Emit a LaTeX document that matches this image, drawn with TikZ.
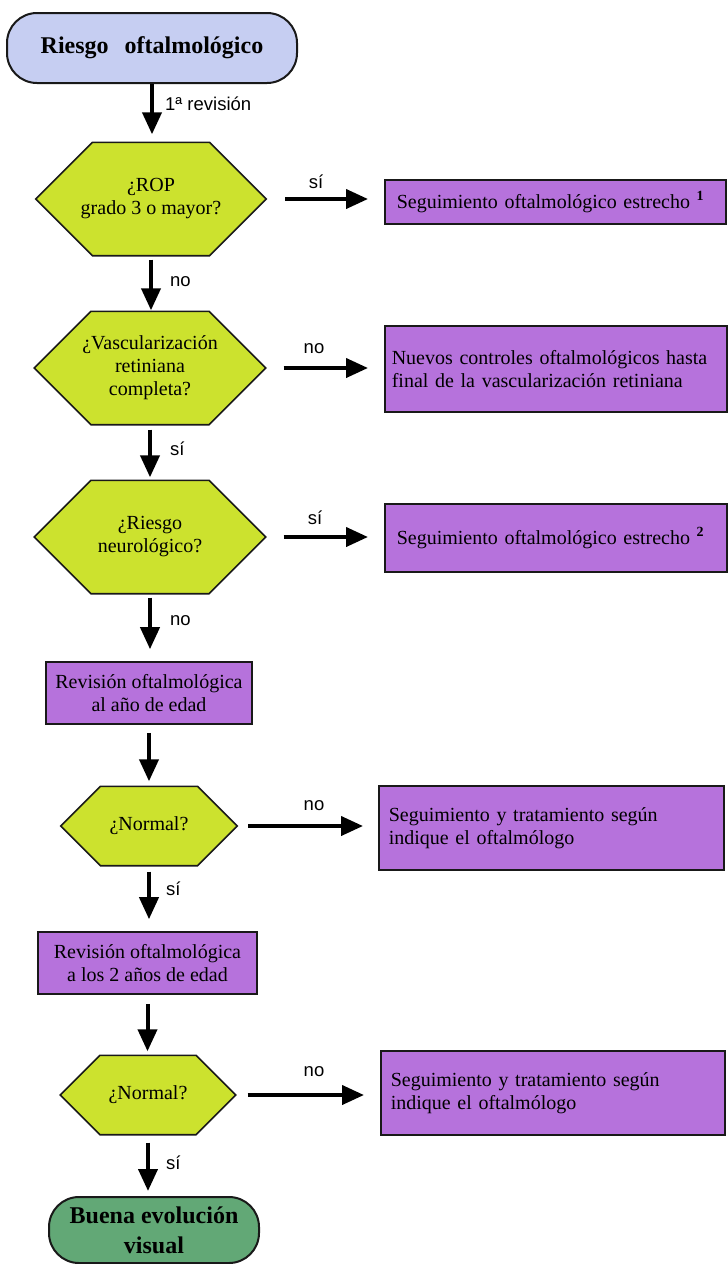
\documentclass[tikz,border=0pt]{standalone}
\usepackage{fontspec}
\setmainfont{Liberation Serif}
\newfontfamily\labfont{Liberation Sans}
\usetikzlibrary{arrows.meta,backgrounds,calc}
\definecolor{startc}{RGB}{198,206,242}
\definecolor{hexc}{RGB}{204,226,46}
\definecolor{boxc}{RGB}{182,114,220}
\definecolor{endc}{RGB}{98,168,118}
\definecolor{edgec}{RGB}{25,25,25}
\begin{document}
\begin{tikzpicture}[x=1pt,y=-1pt,
  base/.style={font=\fontsize{20}{23}\selectfont, text=black, inner sep=0pt, align=center},
  term/.style={base, draw=edgec, line width=2pt, rounded corners=30pt, font=\fontsize{24}{30}\selectfont\bfseries},
  hexa/.style={base},
  box/.style={base, draw=edgec, line width=1.6pt, fill=boxc},
  rbox/.style={box, align=left, anchor=west},
  arr/.style={line width=4pt, -{Triangle[width=19pt,length=22pt]}, draw=black},
  lab/.style={font=\labfont\fontsize{18.5}{18.5}\selectfont, inner sep=0pt},
]
\useasboundingbox (0,0) rectangle (728,1264);

% left column
\node[term, fill=startc, minimum width=290pt, minimum height=70pt] (start) at (152,48) {Riesgo\hspace{16pt}oftalmológico};
\node[hexa, minimum width=230pt, minimum height=113pt] (h1) at (151,199) {¿ROP\\grado 3 o mayor?};
\node[hexa, minimum width=231pt, minimum height=113pt] (h2) at (150,368) {¿Vascularización\\retiniana\\completa?};
\node[hexa, minimum width=231pt, minimum height=113pt] (h3) at (150,537) {¿Riesgo\\neurológico?};
\node[box, minimum width=206pt, minimum height=62pt] (r1) at (149,693) {Revisión oftalmológica\\al año de edad};
\node[hexa, minimum width=176pt, minimum height=79pt] (h4) at (149,826) {¿Normal?};
\node[box, minimum width=219pt, minimum height=62pt] (r2) at (147.5,963) {Revisión oftalmológica\\a los 2 años de edad};
\node[hexa, minimum width=175pt, minimum height=79pt] (h5) at (148,1095) {¿Normal?};
\node[term, fill=endc, minimum width=210pt, minimum height=66pt] (end) at (154,1230) {Buena evolución\\visual};

% right column
\node[rbox, inner xsep=12pt, text width=317pt, minimum height=44pt] (s1) at (384,202) {Seguimiento oftalmológico estrecho \textsuperscript{\textbf{1}}};
\node[rbox, inner xsep=7pt, text width=328pt, minimum height=86pt] (s2) at (384,369) {Nuevos controles oftalmológicos hasta\\final de la vascularización retiniana};
\node[rbox, inner xsep=12pt, text width=318pt, minimum height=68pt] (s3) at (384,538) {Seguimiento oftalmológico estrecho \textsuperscript{\textbf{2}}};
\node[rbox, inner xsep=10pt, text width=325pt, minimum height=84pt] (s4) at (378,828) {Seguimiento y tratamiento según\\indique el oftalmólogo};
\node[rbox, inner xsep=10pt, text width=324pt, minimum height=84pt] (s5) at (380,1093) {Seguimiento y tratamiento según\\indique el oftalmólogo};

% hexagon outlines
\begin{scope}[on background layer]
\foreach \hx in {h1,h2,h3,h4,h5}
  \filldraw[draw=edgec, line width=1.6pt, fill=hexc, line join=miter]
    let \p1=(\hx.north), \p2=(\hx.center), \n1={\y1-\y2} in
    (\hx.west) -- ([xshift=\n1]\hx.north west) -- ([xshift=-\n1]\hx.north east)
    -- (\hx.east) -- ([xshift=-\n1]\hx.south east) -- ([xshift=\n1]\hx.south west) -- cycle;
\end{scope}

% vertical connectors
\draw[arr, shorten >=8pt] (start.south) -- (start.south |- h1.north);
\draw[arr, shorten <=4pt, shorten >=1pt] (h1.south) -- (h1.south |- h2.north);
\draw[arr, shorten <=5pt, shorten >=3pt] (h2.south) -- (h2.south |- h3.north);
\draw[arr, shorten <=4pt, shorten >=12pt] (h3.south) -- (h3.south |- r1.north);
\draw[arr, shorten <=8pt, shorten >=5pt] (r1.south) -- (r1.south |- h4.north);
\draw[arr, shorten <=6pt, shorten >=12pt] (h4.south) -- (h4.south |- r2.north);
\draw[arr, shorten <=9pt, shorten >=4pt] (r2.south) -- (r2.south |- h5.north);
\draw[arr, shorten <=8pt, shorten >=5pt] (h5.south) -- (h5.south |- end.north);

% horizontal connectors
\draw[arr, shorten <=19pt, shorten >=16pt] (h1.east) -- (h1.east -| s1.west);
\draw[arr, shorten <=18pt, shorten >=16pt] (h2.east) -- (h2.east -| s2.west);
\draw[arr, shorten <=18pt, shorten >=16pt] (h3.east) -- (h3.east -| s3.west);
\draw[arr, shorten <=11pt, shorten >=15pt] (h4.east) -- (h4.east -| s4.west);
\draw[arr, shorten <=12pt, shorten >=16pt] (h5.east) -- (h5.east -| s5.west);

% labels
\node[lab, anchor=west] (l0) at (165,104) {1ª revisión};
\node[lab, anchor=west] (l1) at (170,282) {no};
\node[lab, anchor=west] (l2) at (170,449) {sí};
\node[lab, anchor=west] (l3) at (170,621) {no};
\node[lab, anchor=west] (l4) at (166,889) {sí};
\node[lab, anchor=west] (l5) at (166,1163) {sí};
\node[lab] (l6) at (316,182) {sí};
\node[lab] (l7) at (314,349) {no};
\node[lab] (l8) at (315,518) {sí};
\node[lab] (l9) at (314,806) {no};
\node[lab] (l10) at (314,1072) {no};
\end{tikzpicture}
\end{document}
